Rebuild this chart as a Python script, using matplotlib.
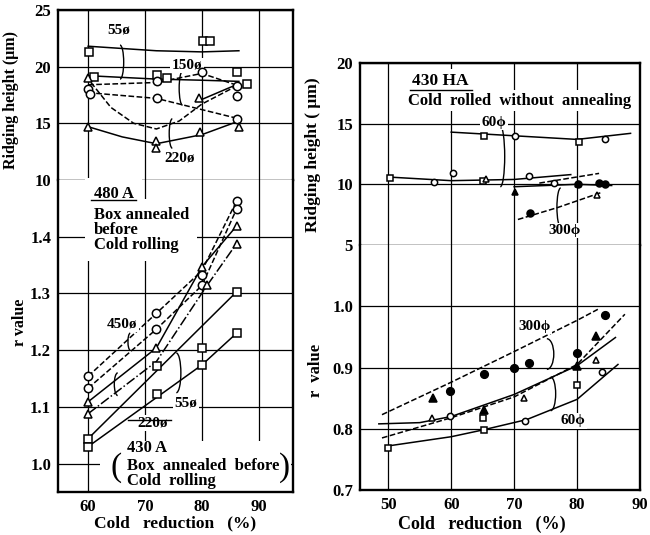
"""Ridging height and r value against cold reduction, 480A/430A and 430HA."""

import matplotlib

matplotlib.use("Agg")
import matplotlib.pyplot as plt
from matplotlib.patches import Arc, Rectangle

plt.rcParams["font.family"] = ["Liberation Serif", "DejaVu Serif"]
plt.rcParams["font.weight"] = "bold"
plt.rcParams["axes.labelweight"] = "bold"

# ---- left panel, ridging height (um) ----
lt_sq_x = [60.2, 61.0, 72.1, 73.9, 80.2, 81.4, 86.1, 87.9]
lt_sq_y = [21.3, 19.1, 19.3, 19.0, 22.3, 22.3, 19.5, 18.5]
lt_ci_x = [59.9, 60.3, 72.1, 72.1, 80.0, 86.1, 86.1, 86.1]
lt_ci_y = [18.0, 17.6, 18.7, 17.2, 19.5, 18.3, 17.4, 15.4]
lt_tr_x = [60.0, 60.0, 71.9, 71.9, 79.5, 79.6, 86.6]
lt_tr_y = [19.0, 14.7, 13.4, 12.8, 17.2, 14.2, 14.7]

lt_curves = [
    ([60, 66, 72, 80, 86.5], [21.8, 21.6, 21.4, 21.3, 21.4], "-"),
    ([60, 72, 80, 86.5], [19.2, 18.9, 18.8, 18.7], "-"),
    ([60, 72, 80, 86.5], [18.4, 18.6, 19.4, 18.3], "--"),
    ([60, 72, 86.5], [17.7, 17.2, 15.4], "--"),
    ([60.5, 64, 68, 72, 76, 80, 86.5], [18.6, 16.4, 15.0, 14.5, 15.2, 16.7, 18.4], "--"),
    ([60, 66, 72, 80, 86.5], [14.7, 13.8, 13.2, 14.0, 15.2], "-"),
    ([79.5, 86.5], [17.0, 18.5], "-"),
]

# ---- left panel, r value ----
lb_ci_x = [60, 60, 71.9, 71.9, 80, 80, 86.1, 86.1]
lb_ci_y = [1.154, 1.133, 1.265, 1.237, 1.333, 1.314, 1.463, 1.449]
lb_tr_x = [60, 60, 71.9, 80, 80.9, 86.1, 86.1]
lb_tr_y = [1.109, 1.088, 1.204, 1.347, 1.314, 1.419, 1.388]
lb_sq_x = [60, 60, 72.1, 72.1, 80, 80, 86.1, 86.1]
lb_sq_y = [1.044, 1.030, 1.172, 1.123, 1.204, 1.174, 1.303, 1.230]

lb_curves = [
    ([60, 72, 80, 86.1], [1.154, 1.265, 1.340, 1.463], "--"),
    ([60, 72, 80, 86.1], [1.133, 1.237, 1.314, 1.449], "--"),
    ([60, 72, 80, 86.1], [1.109, 1.204, 1.347, 1.419], "-"),
    ([60, 72, 80.9, 86.1], [1.088, 1.180, 1.314, 1.388], "-."),
    ([60, 86.1], [1.044, 1.303], "-"),
    ([60, 80, 86.1], [1.030, 1.174, 1.230], "-"),
]

# ---- right panel, ridging height (um) ----
rt_osq_x = [50.2, 65.0, 65.2, 80.3]
rt_osq_y = [10.5, 10.3, 14.0, 13.5]
rt_oci_x = [57.2, 60.3, 70.2, 72.4, 76.3, 84.4]
rt_oci_y = [10.2, 10.9, 14.0, 10.7, 10.1, 13.7]
rt_otr_x = [65.5, 83.2]
rt_otr_y = [10.4, 9.1]
rt_fci_x = [72.6, 80.2, 83.5, 84.5]
rt_fci_y = [7.6, 10.0, 10.1, 10.0]
rt_ftr_x = [70.2, 80.2]
rt_ftr_y = [9.4, 10.0]

rt_curves = [
    ([60, 70, 80, 88.5], [14.3, 14.0, 13.7, 14.2], "-"),
    ([50, 60, 70, 79], [10.6, 10.3, 10.4, 10.8], "-"),
    ([70, 80, 85.5], [9.8, 10.0, 9.9], "-"),
    ([74, 83.5], [10.1, 10.9], "--"),
    ([70.6, 77, 83.7], [7.1, 8.1, 9.3], "--"),
]

# ---- right panel, r value ----
rb_osq_x = [50, 65, 65.2, 80]
rb_osq_y = [0.769, 0.818, 0.798, 0.872]
rb_oci_x = [59.8, 71.8, 84]
rb_oci_y = [0.821, 0.813, 0.892]
rb_otr_x = [57, 71.6, 83]
rb_otr_y = [0.818, 0.851, 0.913]
rb_fci_x = [59.8, 65.2, 70, 72.4, 80, 84.4]
rb_fci_y = [0.861, 0.890, 0.900, 0.908, 0.923, 0.985]
rb_ftr_x = [57.1, 65.2, 80, 83]
rb_ftr_y = [0.851, 0.831, 0.902, 0.951]

rb_curves = [
    ([49, 60, 70, 80, 83.3], [0.823, 0.876, 0.926, 0.977, 0.995], "--"),
    ([49, 60, 70, 80, 87.6], [0.785, 0.818, 0.852, 0.905, 0.987], "--"),
    ([48.5, 55, 60, 70, 80, 86.1], [0.808, 0.810, 0.820, 0.856, 0.903, 0.949], "-"),
    ([50, 60, 65, 72, 80, 86.5], [0.772, 0.787, 0.798, 0.815, 0.848, 0.905], "-"),
]

LEFT_XTICKS = [60, 70, 80, 90]
RIGHT_XTICKS = [50, 60, 70, 80, 90]


def frame(ax, xlim, ylim, xticks, yticks, ylabels):
    ax.set_xlim(*xlim)
    ax.set_ylim(*ylim)
    ax.set_xticks(xticks)
    ax.set_yticks(yticks)
    ax.set_yticklabels(ylabels)
    ax.grid(True, color="black", linewidth=0.9)
    ax.set_axisbelow(True)
    ax.tick_params(length=0, labelsize=12, pad=5)
    for spine in ax.spines.values():
        spine.set_linewidth(1.7)


def draw_curves(ax, curves):
    for xs, ys, style in curves:
        ax.plot(xs, ys, linestyle=style, color="black", linewidth=1.1, zorder=3)


def draw_points(ax, x, y, marker, filled=False, size=6.0):
    ax.plot(x, y, linestyle="none", marker=marker, markersize=size,
            markerfacecolor="black" if filled else "white",
            markeredgecolor="black", markeredgewidth=1.1, zorder=4)


def bracket(ax, cx, cy, w, h, t1=-90, t2=90):
    ax.add_patch(Arc((cx, cy), w, h, theta1=t1, theta2=t2,
                     color="black", linewidth=1.0, zorder=3))


def label(ax, x, y, s, size=11, **kw):
    ax.text(x, y, s, fontsize=size, zorder=3.5,
            bbox=dict(facecolor="white", edgecolor="none", pad=1.0), **kw)


fig = plt.figure(figsize=(6.5, 5.35), dpi=100)
ax_lt = fig.add_axes([0.0892, 0.6636, 0.3615, 0.3178])
ax_lb = fig.add_axes([0.0892, 0.0804, 0.3615, 0.5832])
ax_rt = fig.add_axes([0.5538, 0.5421, 0.4308, 0.3402])
ax_rb = fig.add_axes([0.5538, 0.0841, 0.4308, 0.4579])

# left top
frame(ax_lt, (54.7, 96), (10, 25), LEFT_XTICKS, [10, 15, 20, 25], ["10", "15", "20", "25"])
ax_lt.tick_params(labelbottom=False)
ax_lt.spines["bottom"].set_linewidth(0.9)
draw_curves(ax_lt, lt_curves)
draw_points(ax_lt, lt_sq_x, lt_sq_y, "s")
draw_points(ax_lt, lt_ci_x, lt_ci_y, "o")
draw_points(ax_lt, lt_tr_x, lt_tr_y, "^")
label(ax_lt, 65.3, 23.2, "55ø", ha="center", va="center")
label(ax_lt, 77.4, 20.1, "150ø", ha="center", va="center")
label(ax_lt, 76.1, 11.9, "220ø", ha="center", va="center")
bracket(ax_lt, 65.6, 20.4, 1.3, 3.0)
bracket(ax_lt, 76.6, 18.1, 1.2, 3.0, 90, 270)
bracket(ax_lt, 74.8, 14.1, 1.1, 2.6, 90, 270)
ax_lt.set_ylabel("Ridging height (μm)", fontsize=11.5)
ax_lt.yaxis.set_label_coords(-0.165, 0.47)

# left bottom
frame(ax_lb, (54.7, 96), (0.95, 1.5), LEFT_XTICKS, [1.0, 1.1, 1.2, 1.3, 1.4],
      ["1.0", "1.1", "1.2", "1.3", "1.4"])
ax_lb.spines["top"].set_visible(False)
ax_lb.add_patch(Rectangle((62.0, 0.952), 33.6, 0.088, facecolor="white",
                          edgecolor="none", zorder=2.5))
draw_curves(ax_lb, lb_curves)
draw_points(ax_lb, lb_sq_x, lb_sq_y, "s")
draw_points(ax_lb, lb_ci_x, lb_ci_y, "o")
draw_points(ax_lb, lb_tr_x, lb_tr_y, "^")
ax_lb.text(61.0, 1.475, "480 A", fontsize=12, va="center", zorder=3.5,
           bbox=dict(facecolor="white", edgecolor="none", pad=6))
ax_lb.plot([0.14, 0.33], [0.935, 0.935], color="black", lw=1.0,
           transform=ax_lb.transAxes, zorder=3.6)
ax_lb.text(61.0, 1.452, "Box annealed\nbefore\nCold rolling", fontsize=12,
           va="top", linespacing=0.9, zorder=3.5,
           bbox=dict(facecolor="white", edgecolor="none", pad=6))
label(ax_lb, 66.0, 1.246, "450ø", ha="center", va="center")
label(ax_lb, 71.4, 1.072, "220ø", ha="center", va="center")
label(ax_lb, 77.2, 1.107, "55ø", ha="center", va="center")
bracket(ax_lb, 65.2, 1.14, 1.2, 0.04, 90, 270)
bracket(ax_lb, 75.5, 1.16, 1.6, 0.07)
bracket(ax_lb, 67.4, 1.215, 0.8, 0.03, 90, 270)
ax_lb.text(66.8, 1.028, "430 A", fontsize=12, va="center", zorder=3.5)
ax_lb.plot([0.3, 0.48], [0.232, 0.232], color="black", lw=1.0,
           transform=ax_lb.transAxes, zorder=3.6)
ax_lb.text(66.8, 1.010, "Box  annealed  before\nCold  rolling", fontsize=12,
           va="top", linespacing=0.9, zorder=3.5)
ax_lb.text(64.9, 0.993, "(", fontsize=24, fontweight="normal", ha="center", va="center", zorder=3.6)
ax_lb.text(94.6, 0.993, ")", fontsize=24, fontweight="normal", ha="center", va="center", zorder=3.6)
ax_lb.set_ylabel("r value", fontsize=11.5)
ax_lb.yaxis.set_label_coords(-0.128, 0.545)
ax_lb.set_xlabel("Cold   reduction   (%)", fontsize=12.5)
ax_lb.xaxis.set_label_coords(0.5, -0.075)

# right top
frame(ax_rt, (45.5, 90), (5, 20), RIGHT_XTICKS, [5, 10, 15, 20], ["5", "10", "15", "20"])
ax_rt.tick_params(labelbottom=False)
ax_rt.spines["bottom"].set_linewidth(0.9)
draw_curves(ax_rt, rt_curves)
draw_points(ax_rt, rt_osq_x, rt_osq_y, "s", size=4.5)
draw_points(ax_rt, rt_oci_x, rt_oci_y, "o", size=4.5)
draw_points(ax_rt, rt_otr_x, rt_otr_y, "^", size=4.5)
draw_points(ax_rt, rt_fci_x, rt_fci_y, "o", filled=True, size=5)
draw_points(ax_rt, rt_ftr_x, rt_ftr_y, "^", filled=True, size=5)
ax_rt.text(53.7, 18.5, "430 HA", fontsize=12.5, va="center", zorder=3.5,
           bbox=dict(facecolor="white", edgecolor="none", pad=3))
ax_rt.plot([0.18, 0.4], [0.85, 0.85], color="black", lw=1.0,
           transform=ax_rt.transAxes, zorder=3.6)
ax_rt.text(53.1, 16.9, "Cold  rolled  without  annealing", fontsize=12, va="center",
           zorder=3.5, bbox=dict(facecolor="white", edgecolor="none", pad=2))
label(ax_rt, 66.8, 15.1, "60ϕ", ha="center", va="center")
label(ax_rt, 78.0, 6.2, "300ϕ", ha="center", va="center")
bracket(ax_rt, 67.8, 12.3, 1.4, 5.0)
bracket(ax_rt, 77.4, 8.1, 1.2, 3.2, 90, 270)
ax_rt.set_ylabel("Ridging height ( μm)", fontsize=12.5)
ax_rt.yaxis.set_label_coords(-0.139, 0.495)

# right bottom
frame(ax_rb, (45.5, 90), (0.7, 1.1), RIGHT_XTICKS, [0.7, 0.8, 0.9, 1.0],
      ["0.7", "0.8", "0.9", "1.0"])
ax_rb.spines["top"].set_visible(False)
draw_curves(ax_rb, rb_curves)
draw_points(ax_rb, rb_osq_x, rb_osq_y, "s", size=4.5)
draw_points(ax_rb, rb_oci_x, rb_oci_y, "o", size=4.5)
draw_points(ax_rb, rb_otr_x, rb_otr_y, "^", size=4.5)
draw_points(ax_rb, rb_fci_x, rb_fci_y, "o", filled=True, size=5.5)
draw_points(ax_rb, rb_ftr_x, rb_ftr_y, "^", filled=True, size=5.5)
label(ax_rb, 73.2, 0.967, "300ϕ", ha="center", va="center")
label(ax_rb, 79.4, 0.813, "60ϕ", ha="center", va="center")
bracket(ax_rb, 75.2, 0.922, 2.2, 0.05)
bracket(ax_rb, 75.8, 0.857, 1.6, 0.055)
ax_rb.set_ylabel("r  value", fontsize=12)
ax_rb.yaxis.set_label_coords(-0.129, 0.49)
ax_rb.set_xlabel("Cold   reduction   (%)", fontsize=13)
ax_rb.xaxis.set_label_coords(0.435, -0.105)

fig.savefig("out.png", dpi=100, facecolor="white")
plt.close(fig)
